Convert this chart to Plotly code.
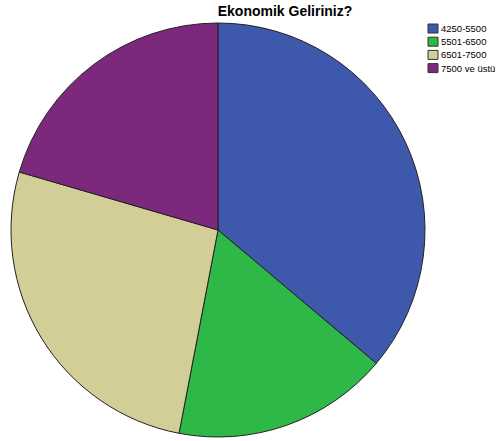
import plotly.graph_objects as go

categories = ["4250-5500", "5501-6500", "6501-7500", "7500 ve üstü"]
counts = [30, 14, 22, 17]
colors = ["#3E58AC", "#2EB848", "#D3CE97", "#7C287D"]
title_text = "Ekonomik Geliriniz?"

W, H = 496, 441
cx, cy, r = 218, 230, 207

fig = go.Figure(go.Pie(
    labels=categories,
    values=counts,
    sort=False,
    direction="clockwise",
    rotation=0,
    textinfo="none",
    hoverinfo="label+value+percent",
    showlegend=False,
    marker=dict(colors=colors, line=dict(color="#222222", width=1)),
    domain=dict(x=[(cx - r) / W, (cx + r) / W], y=[1 - (cy + r) / H, 1 - (cy - r) / H]),
))

# legend drawn as swatches + labels (SPSS-style compact legend)
shapes, annotations = [], []
for i, (cat, col) in enumerate(zip(categories, colors)):
    yc = 28.5 + i * 13.2
    shapes.append(dict(type="rect", xref="paper", yref="paper",
                       x0=428 / W, x1=438 / W, y0=1 - (yc + 4.5) / H, y1=1 - (yc - 4.5) / H,
                       fillcolor=col, line=dict(color="#333333", width=1)))
    annotations.append(dict(text=cat, xref="paper", yref="paper", x=439 / W, y=1 - yc / H,
                            xanchor="left", yanchor="middle", showarrow=False,
                            font=dict(family="Liberation Sans, Arial", size=9.5, color="#000000")))

fig.update_layout(
    width=W, height=H,
    margin=dict(l=0, r=0, t=0, b=0),
    paper_bgcolor="white",
    plot_bgcolor="white",
    showlegend=False,
    shapes=shapes,
    annotations=annotations,
    title=dict(text="<b>" + title_text + "</b>", x=285 / W, xanchor="center",
               y=1 - 11 / H, yanchor="middle",
               font=dict(family="Liberation Sans, Arial", size=14, color="#000000")),
)
fig.write_html("out.html", config={"displayModeBar": False},
               post_script="document.body.style.margin='0';")
